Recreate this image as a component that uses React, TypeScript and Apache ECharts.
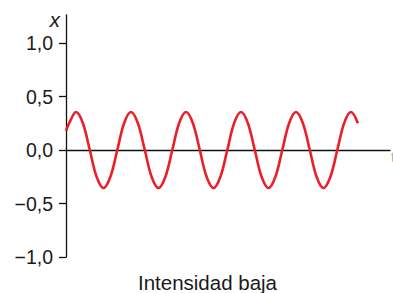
import React, { useEffect, useRef } from "react";
import * as echarts from "echarts";

// wave sample points (x in axis units, 0..324)
const waveX = [
  0, 3.1, 10, 16.9, 23.8, 30.6, 37.5, 44.4, 51.3, 58.1,
  65, 71.9, 78.8, 85.6, 92.5, 99.4, 106.3, 113.1,
  120, 126.9, 133.8, 140.6, 147.5, 154.4, 161.3, 168.1,
  175, 181.9, 188.8, 195.6, 202.5, 209.4, 216.3, 223.1,
  230, 236.9, 243.8, 250.6, 257.5, 264.4, 271.3, 278.1,
  285, 291.9,
];
const waveY = [
  0.18, 0.25, 0.355, 0.25, 0, -0.25, -0.355, -0.25, 0, 0.25,
  0.355, 0.25, 0, -0.25, -0.355, -0.25, 0, 0.25,
  0.355, 0.25, 0, -0.25, -0.355, -0.25, 0, 0.25,
  0.355, 0.25, 0, -0.25, -0.355, -0.25, 0, 0.25,
  0.355, 0.25, 0, -0.25, -0.355, -0.25, 0, 0.25,
  0.355, 0.25,
];
const yTicks = [-1, -0.5, 0, 0.5, 1];
const yAxisLetter = "x";
const xAxisLetter = "t";
const caption = "Intensidad baja";

const fmt = (v: number) => {
  const s = Math.abs(v).toFixed(1).replace(".", ",");
  return v < 0 ? "\u2212" + s : s;
};

export default function App() {
  const ref = useRef<HTMLDivElement>(null);
  useEffect(() => {
    if (!ref.current) return;
    const chart = echarts.init(ref.current, undefined, { renderer: "svg" });
    const font = "'Liberation Sans', Arial, sans-serif";
    chart.setOption({
      animation: false,
      backgroundColor: "#ffffff",
      grid: { left: 66, right: 3, top: 15, bottom: 36, containLabel: false },
      xAxis: {
        type: "value",
        min: 0,
        max: 324,
        axisLine: { show: true, onZero: true, lineStyle: { color: "#111", width: 1.3 } },
        axisTick: { show: false },
        axisLabel: { show: false },
        splitLine: { show: false },
      },
      yAxis: {
        type: "value",
        min: -1,
        max: 1.262,
        axisLine: { show: true, onZero: false, lineStyle: { color: "#111", width: 1.3 } },
        axisTick: {
          show: true,
          length: 7,
          customValues: yTicks,
          lineStyle: { color: "#111", width: 1.3 },
        },
        axisLabel: {
          show: true,
          customValues: yTicks,
          formatter: (v: number) => fmt(v),
          color: "#1a1a1a",
          fontSize: 19.5,
          fontFamily: font,
          margin: 13,
        },
        splitLine: { show: false },
      },
      graphic: [
        {
          type: "text",
          x: 60,
          y: 19,
          style: {
            text: yAxisLetter,
            fontSize: 20.5,
            fontStyle: "italic",
            fontFamily: font,
            fill: "#1a1a1a",
            align: "right",
            verticalAlign: "middle",
          },
        },
        {
          type: "text",
          x: 391,
          y: 157,
          style: {
            text: xAxisLetter,
            fontSize: 14,
            fontFamily: font,
            fill: "#aaaaaa",
            align: "left",
            verticalAlign: "middle",
          },
        },
        {
          type: "text",
          x: 207.5,
          y: 282.5,
          style: {
            text: caption,
            fontSize: 20.5,
            fontFamily: font,
            fill: "#1a1a1a",
            align: "center",
            verticalAlign: "middle",
          },
        },
      ],
      series: [
        {
          type: "line",
          data: waveX.map((x, i) => [x, waveY[i]]),
          smooth: 0.35,
          showSymbol: false,
          symbol: "none",
          lineStyle: { color: "#e8202a", width: 2.6 },
          clip: false,
        },
      ],
    });
    return () => chart.dispose();
  }, []);
  return <div ref={ref} style={{ width: 393, height: 293, position: "absolute", left: 0, top: 0 }} />;
}
